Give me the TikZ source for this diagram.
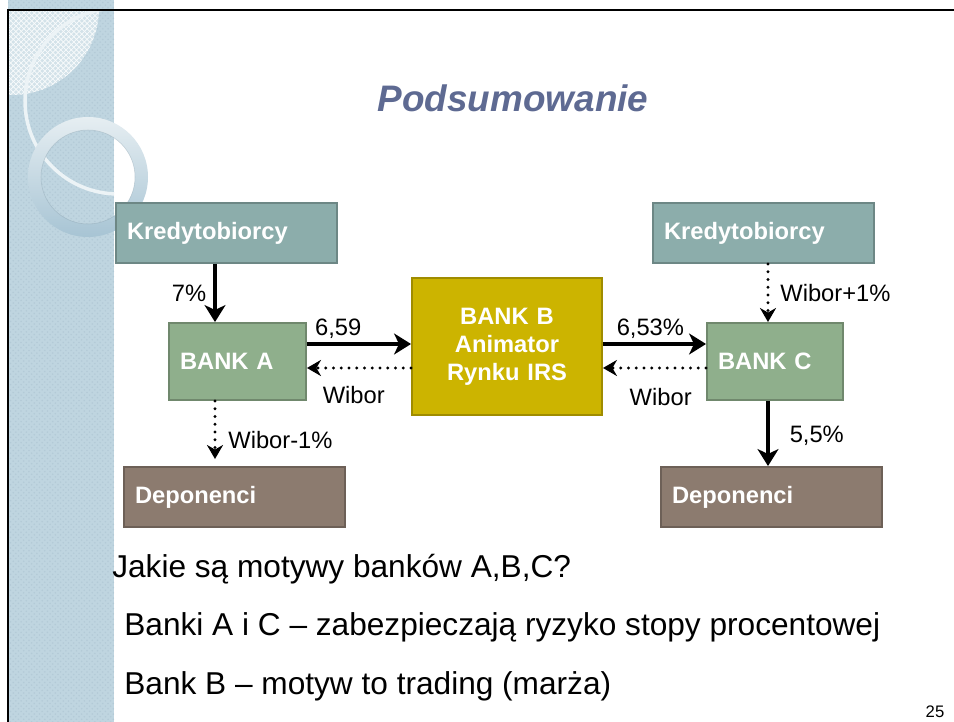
\documentclass[tikz,border=0pt]{standalone}
\usepackage{fontspec}
\setmainfont{Liberation Sans}
\usepackage{xcolor}
\usetikzlibrary{positioning, arrows.meta, patterns}

\definecolor{kredcol}{HTML}{8CADAB}
\definecolor{bankcol}{HTML}{8FAF8C}
\definecolor{animcol}{HTML}{CCB400}
\definecolor{depocol}{HTML}{8C7B6F}
\definecolor{titlecol}{HTML}{5E6A92}
\definecolor{stripecol}{HTML}{BFD5E0}
\definecolor{stripedark}{HTML}{B3CAD7}
\definecolor{patchcol}{HTML}{D3E2E9}
\definecolor{ringtop}{HTML}{E6EEF2}
\definecolor{ringbot}{HTML}{A7C4D4}

\begin{document}
\begin{tikzpicture}[x=0.02cm, y=-0.02cm,
    box/.style={rectangle, draw=#1!78!black, fill=#1, line width=1.1pt, text=white,
                font=\fontsize{13.5}{16}\selectfont\bfseries, inner xsep=0.22cm, inner ysep=0pt},
    box/.default=kredcol,
    arr/.style={-{Stealth[length=0.34cm, width=0.42cm, inset=0.1cm]}, line width=0.08cm},
    dotarr/.style={-{Stealth[length=0.28cm, width=0.32cm, inset=0.09cm]}, line width=0.065cm,
                   dash pattern=on 0pt off 0.155cm, line cap=round},
    lbl/.style={font=\fontsize{13.5}{16}\selectfont, inner sep=1pt},
    body/.style={font=\fontsize{18}{22}\selectfont, anchor=base west, inner sep=0pt},
  ]
    \useasboundingbox (0,0) rectangle (954,722);

    % Slide background: stripe, patch, rings
    \fill[stripecol] (8,0) rectangle (114,722);
    \fill[pattern=crosshatch dots, pattern color=stripedark] (8,0) rectangle (114,722);
    \begin{scope}
      \clip (8,10) rectangle (114,722);
      \fill[patchcol] (12,8) circle[radius=87];
      \fill[pattern=crosshatch, pattern color=white!85!patchcol] (12,8) circle[radius=87];
      \draw[white!70!stripecol, line width=0.07cm] (118,101) circle[radius=93];
    \end{scope}
    \shade[top color=ringtop, bottom color=ringbot, even odd rule]
      (88,177) circle[radius=60] (88,177) circle[radius=47];
    \draw[ringbot!80!black, line width=0.3pt, opacity=0.4] (88,177) circle[radius=47];
    \draw[line width=0.05cm] (8,722) -- (8,10) -- (954,10);

    % Title
    \node[font=\fontsize{21}{25}\selectfont\bfseries\itshape, text=titlecol] (title) at (513,98) {Podsumowanie};

    % Boxes
    \node[box, minimum width=4.42cm, minimum height=1.2cm, text width=3.98cm] (kredA) at (226.5,233) {Kredytobiorcy};
    \node[box, minimum width=4.42cm, minimum height=1.2cm, text width=3.98cm] (kredC) at (763.5,233) {Kredytobiorcy};
    \node[box=bankcol, minimum width=2.74cm, minimum height=1.54cm, text width=2.3cm] (bankA) at (237.5,361.5) {BANK A};
    \node[box=bankcol, minimum width=2.72cm, minimum height=1.54cm, text width=2.28cm] (bankC) at (775,361.5) {BANK C};
    \node[box=animcol, minimum width=3.8cm, minimum height=2.74cm, text width=3.36cm, align=center] (bankB) at (507,346.5) {BANK B\\Animator\\Rynku IRS};
    \node[box=depocol, minimum width=4.42cm, minimum height=1.2cm, text width=3.98cm] (depA) at (234.5,497) {Deponenci};
    \node[box=depocol, minimum width=4.42cm, minimum height=1.2cm, text width=3.98cm] (depC) at (771.5,497) {Deponenci};

    % Arrow positions
    \coordinate (xL) at (215,0);
    \coordinate (xR) at (768,0);
    \coordinate (yT) at (0,344);
    \coordinate (yB) at (0,368);

    % Arrows
    \draw[arr] (kredA.south -| xL) -- (bankA.north -| xL) node[lbl, midway, left=0.1cm] (l7) {7\%};
    \draw[dotarr] (kredC.south -| xR) -- (bankC.north -| xR) node[lbl, midway, right=0.18cm] (lwp) {Wibor+1\%};
    \draw[arr] (bankA.east |- yT) -- (bankB.west |- yT) node[lbl, pos=0.3, above=0.03cm] (l659) {6,59};
    \draw[dotarr] (bankB.west |- yB) -- (bankA.east |- yB) node[lbl, pos=0.55, below=0.3cm] (lwa) {Wibor};
    \draw[arr] (bankB.east |- yT) -- (bankC.west |- yT) node[lbl, pos=0.46, above=0.03cm] (l653) {6,53\%};
    \draw[dotarr] (bankC.west |- yB) -- (bankB.east |- yB) node[lbl, pos=0.44, below=0.34cm] (lwc) {Wibor};
    \draw[dotarr, shorten >=0.14cm] (bankA.south -| xL) -- (depA.north -| xL) node[lbl, pos=0.6, right=0.2cm] (lwm) {Wibor-1\%};
    \draw[arr] (bankC.south -| xR) -- (depC.north -| xR) node[lbl, pos=0.54, right=0.36cm] (l55) {5,5\%};

    % Text below
    \node[body] (q) at (112,578) {Jakie są motywy banków A,B,C?};
    \node[body] (a1) at (124,636) {Banki A i C – zabezpieczają ryzyko stopy procentowej};
    \node[body] (a2) at (124,695) {Bank B – motyw to trading (marża)};
    \node[font=\fontsize{9.5}{11}\selectfont, inner sep=0pt] (pg) at (935,712) {25};
  \end{tikzpicture}
\end{document}
